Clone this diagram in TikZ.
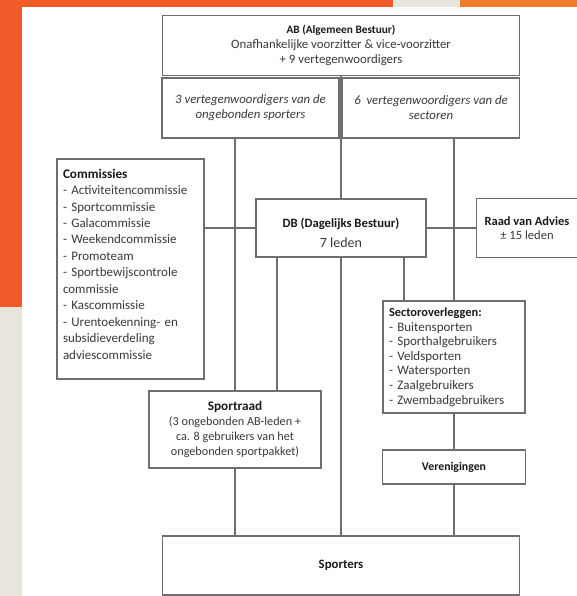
\documentclass[tikz,border=0pt]{standalone}
\usepackage{fontspec}
\setmainfont{Carlito}
\definecolor{orangeA}{HTML}{F15A29}
\definecolor{orangeB}{HTML}{EE7B2B}
\definecolor{beige}{HTML}{E8E5DC}
\definecolor{linegray}{HTML}{6E6E6E}
\definecolor{txtgray}{HTML}{3A3A3A}
\definecolor{txtdark}{HTML}{1A1A1A}
\begin{document}
\begin{tikzpicture}[x=1pt,y=-1pt,
  box/.style={draw=linegray, line width=1.1pt, inner sep=0pt, text=txtgray, align=center},
  conn/.style={draw=linegray, line width=1.1pt}]
\useasboundingbox (0,0) rectangle (577,596);
% background
\fill[white] (0,0) rectangle (577,596);
\fill[orangeA] (0,0) rectangle (393,7.5);
\fill[beige] (393,0) rectangle (460,7.5);
\fill[orangeB] (460,0) rectangle (577,7.5);
\fill[orangeA] (0,0) rectangle (22,307);
\fill[beige] (0,307) rectangle (22,596);
% nodes
\node[box, minimum width=357pt, minimum height=60pt, font=\fontsize{12.8}{15}\selectfont] (ab) at (341,45.5)
  {{\fontsize{11.3}{15}\selectfont\bfseries\color{txtdark}AB (Algemeen Bestuur)}\\Onafhankelijke voorzitter \& vice-voorzitter\\+ 9 vertegenwoordigers};
\node[box, minimum width=177pt, minimum height=60pt, font=\fontsize{12.8}{15}\selectfont\itshape] (sub1) at (250.5,108)
  {3 vertegenwoordigers van de\\ongebonden sporters};
\node[box, minimum width=177pt, minimum height=60pt, font=\fontsize{12.8}{15}\selectfont\itshape] (sub2) at (431,108)
  {6\ \ vertegenwoordigers van de\\sectoren};
\node[box, minimum width=147pt, minimum height=220pt, text width=135pt, align=left, font=\fontsize{13}{16.45}\selectfont] (comm) at (130.5,269)
  {{\fontsize{13.2}{16.45}\selectfont\bfseries\color{txtdark}Commissies}\\- Activiteitencommissie\\- Sportcommissie\\- Galacommissie\\- Weekendcommissie\\- Promoteam\\- Sportbewijscontrole\\commissie\\- Kascommissie\\- Urentoekenning- en\\subsidieverdeling\\adviescommissie\par\vspace*{10pt}};
\node[box, minimum width=170pt, minimum height=58pt, font=\fontsize{14}{20}\selectfont] (db) at (341,228)
  {\rule{0pt}{19pt}{\fontsize{12.7}{20}\selectfont\bfseries\color{txtdark}DB (Dagelijks Bestuur)}\\7 leden};
\node[box, draw=none, minimum width=100pt, minimum height=58pt, font=\fontsize{12.6}{13.5}\selectfont] (raad) at (527,228)
  {{\fontsize{12.5}{13.5}\selectfont\bfseries\color{txtdark}Raad van Advies}\\± 15 leden};
\node[box, minimum width=142pt, minimum height=112pt, text width=130pt, align=left, font=\fontsize{13}{14.6}\selectfont] (sector) at (454,357)
  {{\fontsize{12.4}{14.6}\selectfont\bfseries\color{txtdark}Sectoroverleggen:}\\- Buitensporten\\- Sporthalgebruikers\\- Veldsporten\\- Watersporten\\- Zaalgebruikers\\- Zwembadgebruikers};
\node[box, minimum width=172pt, minimum height=77pt, font=\fontsize{12.2}{14.8}\selectfont] (sportraad) at (235,429.5)
  {{\fontsize{13.2}{14.8}\selectfont\bfseries\color{txtdark}Sportraad}\\(3 ongebonden AB-leden +\\ca. 8 gebruikers van het\\ongebonden sportpakket)};
\node[box, minimum width=143pt, minimum height=34pt, font=\fontsize{11.8}{14}\selectfont\bfseries] (veren) at (454,467)
  {\color{txtdark}Verenigingen};
\node[box, minimum width=357pt, minimum height=59pt, font=\fontsize{12.8}{14}\selectfont\bfseries] (sporters) at (341,565.5)
  {\color{txtdark}Sporters};
% raad box (its right side runs off the page)
\draw[conn] (raad.north east) -- (raad.north west) -- (raad.south west) -- (raad.south east);
% connectors
\draw[conn] (ab.south) -- (db.north);
\draw[conn] (db.south) -- (sporters.north);
\draw[conn] (sub1.south -| sportraad.north) -- (sportraad.north);
\draw[conn] (sub2.south -| sector.north) -- (sector.north);
\draw[conn] (comm.east |- db.west) -- (db.west);
\draw[conn] (db.east) -- (raad.west);
\draw[conn] (db.south -| 277,0) -- (sportraad.north -| 277,0);
\draw[conn] (db.south -| 404,0) -- (sector.north -| 404,0);
\draw[conn] (sector.south) -- (veren.north);
\draw[conn] (veren.south) -- (veren.south |- sporters.north);
\draw[conn] (sportraad.south) -- (sportraad.south |- sporters.north);
\end{tikzpicture}
\end{document}
